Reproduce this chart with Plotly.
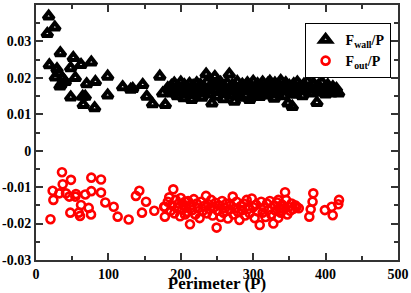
import plotly.graph_objects as go

# F_wall / P  (black triangles)
tri_x = [15.6, 17.5, 26, 33.6, 18.4, 51.5, 47.9, 62.2, 76.4, 29, 31.3, 26.7, 36.9, 40.5, 33.1, 35,
         54.3, 70, 82, 99, 48, 64.5, 68, 65.3, 81, 99, 119.7, 133.6, 130.8, 147.4, 153, 161, 171,
         175, 178.6,
         182, 185, 187, 189, 191, 193, 195, 197, 199, 200, 202, 204, 205, 207, 209, 210, 212, 214,
         215, 217, 219, 220, 222, 224, 226, 227, 229, 231, 233, 235, 236, 238, 240, 241, 243, 245,
         247, 248, 250, 252, 254, 255, 257, 259, 260, 262, 264, 266, 267, 269, 271, 273, 274, 276,
         278, 280, 281, 283, 285, 287, 288, 290, 292, 294, 295, 297, 299, 300, 302, 304, 306, 307,
         309, 311, 313, 314, 316, 318, 320, 322, 323, 325, 327, 329, 330, 332, 334, 336, 338, 339,
         341, 343, 345, 347, 348, 350, 352, 354, 356, 357, 359, 361, 363, 365, 368, 370, 373, 375,
         378, 380, 383, 385, 388, 390, 392, 395, 398, 400, 403, 405, 408, 410, 413, 415, 418]
tri_y = [0.0321, 0.0369, 0.0339, 0.0268, 0.0235, 0.0255, 0.0227, 0.0236, 0.0243, 0.0224, 0.0213,
         0.0202, 0.0198, 0.0189, 0.0177, 0.0183, 0.0200, 0.0183, 0.0189, 0.0204, 0.0147, 0.0149,
         0.0149, 0.0126, 0.0117, 0.0152, 0.0175, 0.0170, 0.0168, 0.0181, 0.0149, 0.0128, 0.0204,
         0.0158, 0.0126,
         0.0172, 0.0165, 0.0178, 0.0158, 0.0185, 0.0168, 0.0150, 0.0176, 0.0162, 0.0188, 0.0171,
         0.0145, 0.0180, 0.0160, 0.0174, 0.0155, 0.0184, 0.0167, 0.0140, 0.0178, 0.0163, 0.0152,
         0.0186, 0.0170, 0.0158, 0.0181, 0.0146, 0.0175, 0.0162, 0.0210, 0.0188, 0.0168, 0.0155,
         0.0177, 0.0130, 0.0183, 0.0203, 0.0165, 0.0149, 0.0179, 0.0161, 0.0187, 0.0170, 0.0142,
         0.0176, 0.0158, 0.0185, 0.0166, 0.0210, 0.0152, 0.0180, 0.0163, 0.0135, 0.0174, 0.0189,
         0.0157, 0.0171, 0.0146, 0.0182, 0.0164, 0.0175, 0.0150, 0.0186, 0.0168, 0.0140, 0.0178,
         0.0160, 0.0190, 0.0172, 0.0155, 0.0183, 0.0166, 0.0148, 0.0177, 0.0188, 0.0161, 0.0173,
         0.0152, 0.0184, 0.0167, 0.0190, 0.0158, 0.0176, 0.0143, 0.0185, 0.0169, 0.0155, 0.0180,
         0.0192, 0.0163, 0.0174, 0.0150, 0.0186, 0.0168, 0.0130, 0.0178, 0.0160, 0.0121, 0.0183,
         0.0170, 0.0154, 0.0188, 0.0165, 0.0177, 0.0150, 0.0182, 0.0166, 0.0190, 0.0172, 0.0158,
         0.0185, 0.0168, 0.0132, 0.0179, 0.0160, 0.0187, 0.0170, 0.0155, 0.0180, 0.0166, 0.0158,
         0.0175, 0.0162, 0.0170, 0.0158]

# F_out / P  (red open circles)
cir_x = [20, 23, 24, 32.2, 35.9, 36.9, 41.4, 46, 47.4, 48.3, 54.3, 55.2, 59, 60.8, 62.2, 68, 72.8,
         76, 76.4, 76.4, 89.8, 89.8, 95.7, 107.3, 112.8, 128, 138, 142.7, 146.4, 152, 163.4, 177,
         178, 178,
         182, 184, 186, 188, 189.6, 191, 193, 195, 197, 199, 200, 202, 204, 205.8, 205.8, 207, 209,
         210, 212.7, 214, 216, 218, 220, 222, 224, 226, 228, 230, 232, 234.8, 236, 238, 240, 242,
         244, 246, 248, 249.5, 251, 253, 255, 257, 259, 261, 263, 265, 267, 269, 271.7, 273, 275,
         277, 279, 281, 283, 285, 287, 289, 291, 293, 295, 298, 300, 302, 304, 306, 309, 311, 313,
         315, 317, 319, 321, 323, 325, 327.8, 329, 331, 333, 334.7, 334.7, 336, 338, 340, 342, 344,
         345.4, 347, 349, 351, 353, 355, 358, 360, 363, 377.5, 379.4, 382, 383, 399, 408.4, 409.8,
         417.5, 418.5]
cir_y = [-0.0188, -0.0110, -0.0135, -0.0117, -0.0059, -0.0092, -0.0117, -0.0126, -0.0170, -0.0080,
         -0.0126, -0.0119, -0.0170, -0.0179, -0.0149, -0.0120, -0.0157, -0.0175, -0.0111, -0.0074,
         -0.0079, -0.0115, -0.0142, -0.0154, -0.0181, -0.0189, -0.0124, -0.0110, -0.0170, -0.0140,
         -0.0165, -0.0154, -0.0154, -0.0181,
         -0.0140, -0.0128, -0.0165, -0.0150, -0.0106, -0.0172, -0.0135, -0.0158, -0.0145, -0.0180,
         -0.0130, -0.0162, -0.0148, -0.0140, -0.0175, -0.0155, -0.0168, -0.0138, -0.0202, -0.0150,
         -0.0163, -0.0133, -0.0175, -0.0145, -0.0158, -0.0185, -0.0140, -0.0166, -0.0152, -0.0124,
         -0.0172, -0.0147, -0.0160, -0.0135, -0.0178, -0.0155, -0.0143, -0.0211, -0.0165, -0.0150,
         -0.0182, -0.0138, -0.0170, -0.0157, -0.0145, -0.0186, -0.0162, -0.0150, -0.0126, -0.0175,
         -0.0158, -0.0140, -0.0168, -0.0190, -0.0152, -0.0163, -0.0145, -0.0178, -0.0135, -0.0160,
         -0.0172, -0.0131, -0.0155, -0.0185, -0.0148, -0.0166, -0.0204, -0.0140, -0.0170, -0.0156,
         -0.0182, -0.0145, -0.0162, -0.0138, -0.0175, -0.0200, -0.0150, -0.0165, -0.0142, -0.0184,
         -0.0135, -0.0158, -0.0170, -0.0148, -0.0160, -0.0114, -0.0135, -0.0175, -0.0155, -0.0165,
         -0.0145, -0.0160, -0.0150, -0.0154, -0.0158, -0.0181, -0.0161, -0.0140, -0.0117, -0.0163,
         -0.0154, -0.0177, -0.0147, -0.0135]

x_ticks = [0, 100, 200, 300, 400, 500]
x_tick_labels = ["0", "100", "200", "300", "400", "500"]
y_ticks = [-0.03, -0.02, -0.01, 0, 0.01, 0.02, 0.03, 0.04]
y_tick_labels = ["-0.03", "-0.02", "-0.01", "0", "0.01", "0.02", "0.03", "0.04"]

FONT = "Liberation Serif"

fig = go.Figure()
fig.add_trace(go.Scatter(
    x=tri_x, y=tri_y, mode="markers", name="<b>F<sub>wall</sub>/P</b>",
    marker=dict(symbol="triangle-up-open", size=9, color="black", line=dict(width=4, color="black")),
))
fig.add_trace(go.Scatter(
    x=cir_x, y=cir_y, mode="markers", name="<b>F<sub>out</sub>/P</b>",
    marker=dict(symbol="circle-open", size=8, color="red", line=dict(width=2.6, color="red")),
))

axis_common = dict(
    showgrid=False, zeroline=False, showline=True, linecolor="#333333", linewidth=2,
    mirror="ticks", ticks="inside", ticklen=7, tickwidth=1.5, tickcolor="#333333",
    tickfont=dict(family=FONT, size=14, color="black", weight="bold"),
    automargin=False,
)

fig.update_xaxes(
    range=[0, 500], tickvals=x_ticks, ticktext=x_tick_labels,
    minor=dict(dtick=50, tick0=0, ticks="inside", ticklen=4, tickcolor="#333333", tickwidth=1.5),
    title=dict(text="<b>Perimeter (P)</b>", font=dict(family=FONT, size=17, color="black"), standoff=2),
    ticklabelstandoff=0,
    **axis_common,
)
fig.update_yaxes(
    range=[-0.03, 0.04], tickvals=y_ticks, ticktext=y_tick_labels,
    minor=dict(dtick=0.005, tick0=0, ticks="inside", ticklen=4, tickcolor="#333333", tickwidth=1.5),
    ticklabelstandoff=0,
    **axis_common,
)

fig.update_layout(
    width=411, height=293,
    margin=dict(l=36, r=13, t=5, b=33, autoexpand=False),
    paper_bgcolor="white", plot_bgcolor="white",
    showlegend=True,
    legend=dict(
        x=0.742, y=0.93, xanchor="left", yanchor="top",
        bordercolor="black", borderwidth=1, bgcolor="white",
        font=dict(family=FONT, size=14, color="black"),
        tracegroupgap=0, itemwidth=30,
    ),
)

fig.write_html("out.html", config={"displayModeBar": False},
               post_script="document.body.style.margin='0';")
